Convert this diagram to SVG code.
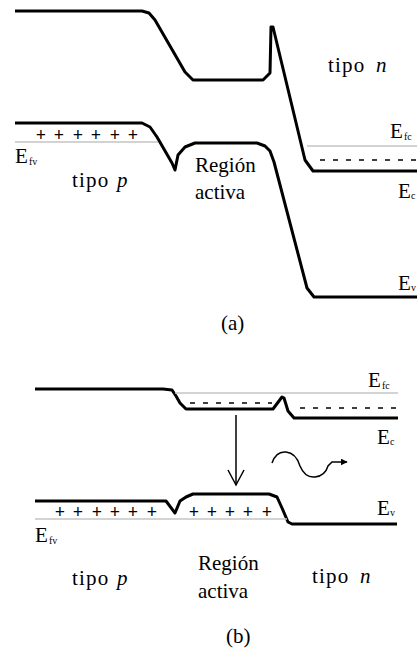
<svg xmlns="http://www.w3.org/2000/svg" width="417" height="649" viewBox="0 0 417 649">
<style>
.band{fill:none;stroke:#000;stroke-width:3;stroke-linejoin:round}
.fermi{fill:none;stroke:#c4c4c4;stroke-width:1.5}
.dash{fill:none;stroke:#000;stroke-width:1.5;stroke-dasharray:5 8}
.thin{fill:none;stroke:#000;stroke-width:1.5}
text{font-family:"Liberation Serif","Times New Roman",serif;font-size:21px;fill:#000}
.tp{letter-spacing:1.2px}
.sub{font-size:10px}
.it{font-style:italic}
.plus{font-size:18px;font-weight:bold}
</style>
<defs>
<marker id="tip" viewBox="0 0 10 10" refX="9" refY="5" markerWidth="7" markerHeight="7" markerUnits="userSpaceOnUse" orient="auto">
<path d="M0,0 L10,5 L0,10 z" fill="#000"/>
</marker>
</defs>

<g id="panel-a">
<g id="a-conduction">
<path class="band" d="M15,11 H142 L149,13 L155,20 L185,72 L193,80 H263 L270,73 L271,27 L273,27 L305,160 L313,171 H417"/>
</g>
<g id="a-valence">
<path class="band" d="M15,123 H142 L150,127 L157,137 L172,163 L175,170 L178,155 L185,147 L195,143 H257 L265,146 L270,151 L274,162 L307,288 L314,297 H417"/>
</g>
<g id="a-fermi">
<line class="fermi" x1="15" y1="142" x2="158" y2="142"/>
<line class="fermi" x1="307" y1="146" x2="417" y2="146"/>
<line class="dash" x1="320" y1="160" x2="417" y2="160"/>
</g>
<g id="a-holes">
<text class="plus" x="41" y="141" text-anchor="middle">+</text>
<text class="plus" x="59" y="141" text-anchor="middle">+</text>
<text class="plus" x="78" y="141" text-anchor="middle">+</text>
<text class="plus" x="96" y="141" text-anchor="middle">+</text>
<text class="plus" x="115" y="141" text-anchor="middle">+</text>
<text class="plus" x="133" y="141" text-anchor="middle">+</text>
</g>
<g id="a-labels">
<text x="15" y="163">E</text><text class="sub" x="29" y="165">fv</text>
<text class="tp" x="72" y="187">tipo</text><text class="it" x="117" y="187">p</text>
<text x="195" y="172">Región</text>
<text x="195" y="199">activa</text>
<text class="tp" x="328" y="72">tipo</text><text class="it" x="376" y="72">n</text>
<text x="390" y="138">E</text><text class="sub" x="404" y="140">fc</text>
<text x="398" y="198">E</text><text class="sub" x="411" y="199">c</text>
<text x="398" y="290">E</text><text class="sub" x="411" y="291">v</text>
<text x="221" y="330">(a)</text>
</g>
</g>

<g id="panel-b">
<g id="b-conduction">
<path class="band" d="M35,389 H163 L172,390 L176,396 L180,403 L186,409 H273 L282,397 L284,398 L288,411 L294,418 H398"/>
</g>
<g id="b-valence">
<path class="band" d="M35,501 H166 L175,513 L180,501 L186,497 L193,494 H269 L277,497 L282,508 L288,522 L292,524 H397"/>
</g>
<g id="b-fermi">
<line class="fermi" x1="175" y1="393" x2="398" y2="393"/>
<line class="fermi" x1="35" y1="519" x2="287" y2="519"/>
<line class="dash" x1="190" y1="403" x2="272" y2="403"/>
<line class="dash" x1="300" y1="408" x2="396" y2="408"/>
</g>
<g id="b-holes">
<text class="plus" x="60" y="518" text-anchor="middle">+</text>
<text class="plus" x="78" y="518" text-anchor="middle">+</text>
<text class="plus" x="97" y="518" text-anchor="middle">+</text>
<text class="plus" x="115" y="518" text-anchor="middle">+</text>
<text class="plus" x="133" y="518" text-anchor="middle">+</text>
<text class="plus" x="152" y="518" text-anchor="middle">+</text>
<text class="plus" x="194" y="518" text-anchor="middle">+</text>
<text class="plus" x="212" y="518" text-anchor="middle">+</text>
<text class="plus" x="230" y="518" text-anchor="middle">+</text>
<text class="plus" x="248" y="518" text-anchor="middle">+</text>
<text class="plus" x="267" y="518" text-anchor="middle">+</text>
</g>
<g id="connectors">
<line class="thin" x1="236" y1="415" x2="236" y2="485"/>
<polyline class="thin" points="228,470 236,485 244,470"/>
<path class="thin" marker-end="url(#tip)" d="M272,463 Q276,451 286,452 Q296,453 300,466 Q305,478 315,477 Q325,476 328,466 L332,462 L347,462"/>
</g>
<g id="b-labels">
<text x="368" y="387">E</text><text class="sub" x="382" y="389">fc</text>
<text x="377" y="444">E</text><text class="sub" x="390" y="445">c</text>
<text x="377" y="515">E</text><text class="sub" x="390" y="516">v</text>
<text x="35" y="542">E</text><text class="sub" x="49" y="544">fv</text>
<text class="tp" x="72" y="585">tipo</text><text class="it" x="117" y="585">p</text>
<text x="198" y="570">Región</text>
<text x="198" y="598">activa</text>
<text class="tp" x="312" y="583">tipo</text><text class="it" x="360" y="583">n</text>
<text x="226" y="643">(b)</text>
</g>
</g>
</svg>
